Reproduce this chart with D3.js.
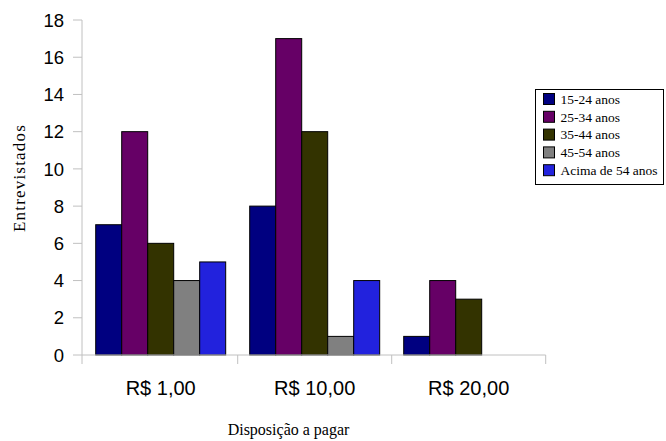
<!DOCTYPE html>
<html>
<head>
<meta charset="utf-8">
<script src="https://cdn.jsdelivr.net/npm/d3@7"></script>
<style>
  html, body { margin: 0; padding: 0; background: #fff; }
  svg { display: block; }
</style>
</head>
<body>
<svg id="chart" width="666" height="441"></svg>
<script>
// Willingness to pay, by age group
const categories = ["R$ 1,00", "R$ 10,00", "R$ 20,00"];
const seriesNames = ["15-24 anos", "25-34 anos", "35-44 anos", "45-54 anos", "Acima de 54 anos"];
const s1524 = [7, 8, 1];
const s2534 = [12, 17, 4];
const s3544 = [6, 12, 3];
const s4554 = [4, 1, 0];
const s54plus = [5, 4, 0];
const yTicks = [0, 2, 4, 6, 8, 10, 12, 14, 16, 18];
const colors = ["#000080", "#660066", "#333300", "#808080", "#2222dd"];

const seriesValues = [s1524, s2534, s3544, s4554, s54plus];
const series = seriesNames.map((name, i) => ({ name, values: seriesValues[i], color: colors[i] }));

const svg = d3.select("#chart");
const axisColor = "#c0c0c0";

const x0 = d3.scaleBand().domain(categories).range([83.7, 545.7])
  .paddingInner(0.156).paddingOuter(0.078);
const x1 = d3.scaleBand().domain(seriesNames).range([0, x0.bandwidth()]).padding(0);
const y = d3.scaleLinear().domain([0, 18]).range([355, 20]);
const step = x0.step();
const xStart = x0.range()[0];

// Bars
const groups = svg.append("g").selectAll("g")
  .data(categories)
  .join("g")
  .attr("transform", c => `translate(${x0(c)},0)`);

groups.selectAll("rect")
  .data((c, ci) => series.filter(s => s.values[ci] > 0).map(s => ({ s, v: s.values[ci] })))
  .join("rect")
  .attr("x", d => x1(d.s.name))
  .attr("y", d => y(d.v))
  .attr("width", x1.bandwidth())
  .attr("height", d => y(0) - y(d.v))
  .attr("fill", d => d.s.color)
  .attr("stroke", "#000")
  .attr("stroke-width", 1);

// Y axis
const yAxis = svg.append("g");
yAxis.append("line")
  .attr("x1", 82).attr("x2", 82)
  .attr("y1", y(18)).attr("y2", y(0) + 9)
  .attr("stroke", axisColor);
yAxis.selectAll("line.tick")
  .data(yTicks)
  .join("line")
  .attr("class", "tick")
  .attr("x1", 73).attr("x2", 82)
  .attr("y1", d => y(d)).attr("y2", d => y(d))
  .attr("stroke", axisColor);
yAxis.selectAll("text")
  .data(yTicks)
  .join("text")
  .attr("x", 64)
  .attr("y", d => y(d))
  .attr("dy", "0.36em")
  .attr("text-anchor", "end")
  .attr("font-family", "Liberation Sans, Arial, sans-serif")
  .attr("font-size", 18.5)
  .attr("fill", "#000")
  .text(d => d);

// X axis
const xAxis = svg.append("g");
xAxis.append("line")
  .attr("x1", 82).attr("x2", x0.range()[1])
  .attr("y1", y(0)).attr("y2", y(0))
  .attr("stroke", axisColor);
xAxis.selectAll("line.tick")
  .data(categories)
  .join("line")
  .attr("class", "tick")
  .attr("x1", (c, i) => xStart + step * (i + 1))
  .attr("x2", (c, i) => xStart + step * (i + 1))
  .attr("y1", y(0)).attr("y2", y(0) + 9)
  .attr("stroke", axisColor);
xAxis.selectAll("text")
  .data(categories)
  .join("text")
  .attr("x", c => x0(c) + x0.bandwidth() / 2)
  .attr("y", 394.5)
  .attr("text-anchor", "middle")
  .attr("font-family", "Liberation Sans, Arial, sans-serif")
  .attr("font-size", 20)
  .attr("fill", "#000")
  .text(c => c);

// Axis titles
svg.append("text")
  .attr("transform", "translate(25,178) rotate(-90)")
  .attr("text-anchor", "middle")
  .attr("font-family", "Liberation Serif, Times New Roman, serif")
  .attr("font-size", 17)
  .attr("letter-spacing", 1.2)
  .attr("fill", "#000")
  .text("Entrevistados");

svg.append("text")
  .attr("x", 288.5)
  .attr("y", 435)
  .attr("text-anchor", "middle")
  .attr("font-family", "Liberation Serif, Times New Roman, serif")
  .attr("font-size", 16)
  .attr("fill", "#000")
  .text("Disposição a pagar");

// Legend
const legend = svg.append("g");
legend.append("rect")
  .attr("x", 535.5).attr("y", 89.5)
  .attr("width", 128).attr("height", 95)
  .attr("fill", "#fff")
  .attr("stroke", "#000");
const items = legend.selectAll("g")
  .data(series)
  .join("g")
  .attr("transform", (d, i) => `translate(0,${99 + i * 17.8})`);
items.append("rect")
  .attr("x", 543.5).attr("y", -5.5)
  .attr("width", 11).attr("height", 11)
  .attr("fill", d => d.color)
  .attr("stroke", "#000");
items.append("text")
  .attr("x", 560.5)
  .attr("y", 0)
  .attr("dy", "0.35em")
  .attr("font-family", "Liberation Serif, Times New Roman, serif")
  .attr("font-size", 13.5)
  .attr("fill", "#000")
  .text(d => d.name);
</script>
</body>
</html>
